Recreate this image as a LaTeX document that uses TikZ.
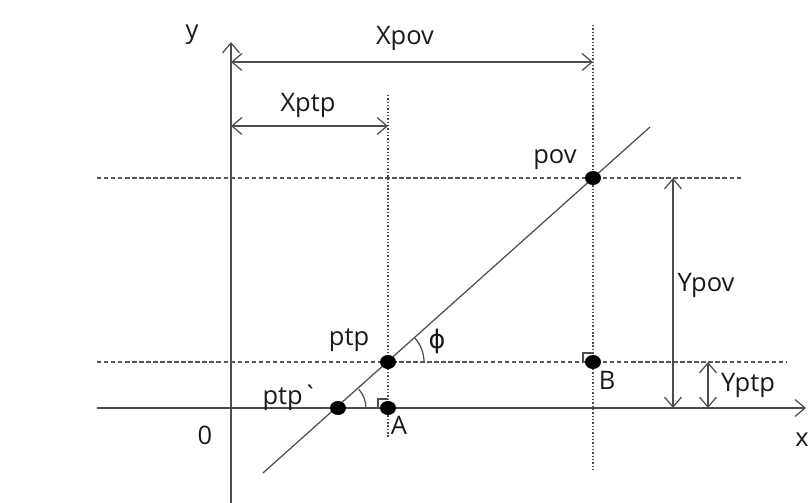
\documentclass[tikz,border=0pt]{standalone}
\usepackage{fontspec}
\setmainfont{Open Sans}
\newfontfamily\phifont{DejaVu Sans}
\usepackage{tikz}
\usetikzlibrary{arrows.meta,shapes.geometric}

\begin{document}
\begin{tikzpicture}[
  x=0.02cm,y=0.02cm,
  every node/.style={font=\fontsize{14.5}{17}\selectfont,text=black!90},
  axis/.style={draw=black!70,line width=0.7pt},
  guideh/.style={draw=black!65,line width=0.75pt,dash pattern=on 2.5pt off 1.5pt},
  guidev/.style={draw=black!70,line width=0.9pt,dash pattern=on 0.8pt off 1.1pt},
  pt/.style={ellipse,fill=black,inner sep=0pt,minimum width=0.32cm,minimum height=0.28cm},
  dim/.style={{Straight Barb[length=2mm,width=3.4mm]}-{Straight Barb[length=2mm,width=3.4mm]},
    draw=black!70,line width=0.7pt}
]
  \useasboundingbox (0,0) rectangle (809,503);

  % axes
  \coordinate (O) at (231,95);
  \coordinate (ybot) at (231,0);
  \coordinate (ytop) at (231,461);
  \coordinate (xlft) at (97,95);
  \coordinate (xrgt) at (806,95);
  \draw[axis,-{Straight Barb[length=2mm,width=3.4mm]}] (ybot) -- (ytop);
  \draw[axis,-{Straight Barb[length=2mm,width=3.4mm]}] (xlft) -- (xrgt);

  % guide lines
  \coordinate (h1l) at (97,325);  \coordinate (h1r) at (742,325);
  \coordinate (h2l) at (97,141);  \coordinate (h2r) at (787,141);
  \coordinate (v1t) at (388,408); \coordinate (v1b) at (388,66);
  \coordinate (v2t) at (593,478); \coordinate (v2b) at (593,31);
  \draw[guideh] (h1l) -- (h1r);
  \draw[guideh] (h2l) -- (h2r);
  \draw[guidev] (v1t) -- (v1b);
  \draw[guidev] (v2t) -- (v2b);

  % the line
  \coordinate (lo) at (263,30);
  \coordinate (hi) at (650,376);
  \draw[axis] (lo) -- (hi);

  % angles and right angle marks
  \draw[axis] (424,141) arc[start angle=0,end angle=41.8,radius=36];
  \draw[axis] (366,95) arc[start angle=0,end angle=41.8,radius=28];
  \draw[axis] (378,95) -- (378,104) -- (388,104);
  \draw[axis] (583,141) -- (583,150) -- (593,150);

  % points
  \node[pt] (pov) at (593,325) {};
  \node[pt] (ptp) at (388,141) {};
  \node[pt] (ptpq) at (338,95) {};
  \node[pt] (A) at (388,95) {};
  \node[pt] (B) at (593,141) {};

  % dimensions
  \coordinate (xpova) at (231,441); \coordinate (xpovb) at (593,441);
  \coordinate (xptpa) at (231,377); \coordinate (xptpb) at (388,377);
  \coordinate (ypova) at (673,325); \coordinate (ypovb) at (673,95);
  \coordinate (yptpa) at (708,141); \coordinate (yptpb) at (708,95);
  \foreach \a/\b in {xpova/xpovb,xptpa/xptpb,ypova/ypovb,yptpa/yptpb}
    {\draw[dim] (\a) -- (\b);}

  % labels
  \node (ylab) at (192,468) {y};
  \node (xlab) at (802,63) {x};
  \node (olab) at (205,68) {0};
  \node (xpovlab) at (405,465) {Xpov};
  \node (xptplab) at (308,398) {Xptp};
  \node (ypovlab) at (706,218) {Ypov};
  \node (yptplab) at (748,118) {Yptp};
  \node (povlab) at (555,343) {pov};
  \node (ptplab) at (349,163) {ptp};
  \node (ptpqlab) at (290,105) {ptp\textasciigrave};
  \node (alab) at (399,78) {A};
  \node (blab) at (607,123) {B};
  \node (philab) at (437,162) {\phifont ϕ};
\end{tikzpicture}
\end{document}
